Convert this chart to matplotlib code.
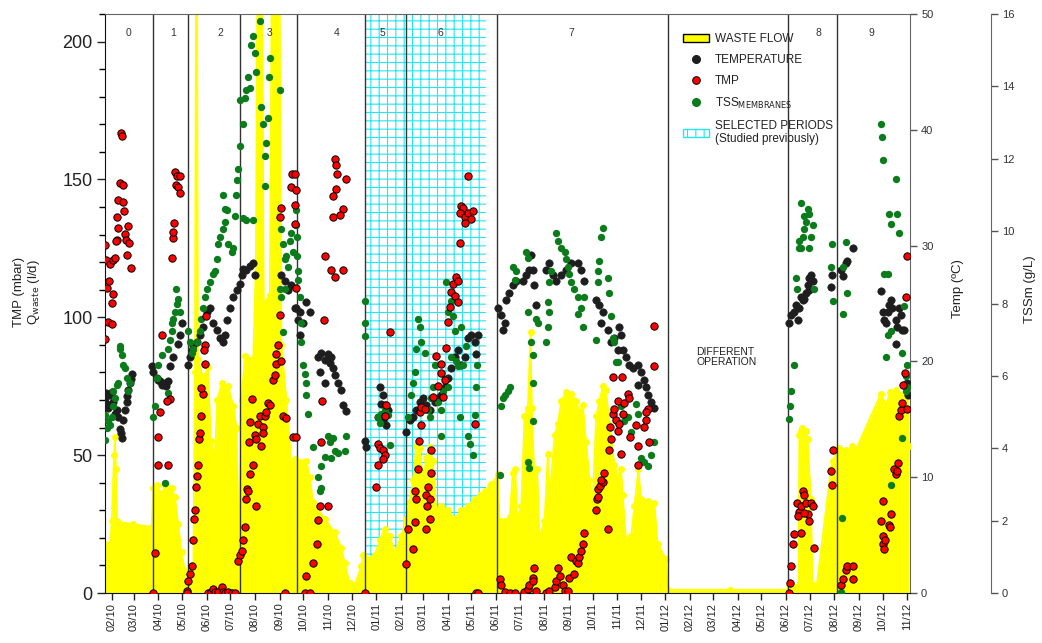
import numpy as np
import matplotlib
matplotlib.use('Agg')
import matplotlib.pyplot as plt
import matplotlib.dates as mdates
from matplotlib.ticker import MultipleLocator
from matplotlib.patches import Patch
from matplotlib.lines import Line2D

plt.rcParams['font.family'] = ['Liberation Sans', 'DejaVu Sans']
plt.rcParams['hatch.linewidth'] = 0.8

# ---------------- data (days since 2010-02-01) ----------------
DATE0 = '2010-02-01'

temp_day = [-8.4, -7, -6.3, -5, -2.1, 0.5, 2.1, 4, 6.3, 8.4, 10.5, 12, 12.6, 14.7, 16.8, 18.9, 20, 21, 23.1, 24, 25.2,
            50.4, 52.5, 56.7, 58.8, 60.9, 63, 67.2, 69, 71.4, 73.5, 77.7, 84, 86.1, 88.2,
            96.6, 98.7, 100.8, 102.9, 107.1, 111.3, 115.5, 119.8, 124, 128.2, 132.4, 136.6, 140.8, 142.9, 145,
            149.2, 153.4, 157.6, 161.8, 163.9, 166, 170.2, 174.4, 178.6, 180.7,
            214.3, 218.5, 222.7, 226.9, 231.1, 235.3, 233.2, 237.4, 241.6, 245.8, 250, 237.4,
            260.5, 264.7, 268.9, 273.1, 277.3, 262.6, 268.9, 281.5, 285.7, 289.9, 292, 296.2, 279.4, 275.2,
            319.4, 321.5, 338.3, 342.5, 340.4, 344.6, 348.8, 336.2, 342.5, 346.7,
            371.9, 376.1, 380.3, 384.5, 388.7, 392.9, 397.1, 401.3, 407.6, 411.8, 416, 420.2, 424.4, 428.6, 432.8,
            437, 441.3, 445.5, 449.7, 453.9, 458.1, 462.3, 460.2,
            487.5, 491.7, 495.9, 493.8, 498, 502, 506.4, 510.6, 519, 523, 527.4, 531.6, 529.5, 533.7, 535.8,
            548.4, 552.6, 556.9, 561, 567.4, 573.7, 580, 588.4, 592.6, 596.8, 611.5, 615.7, 619.9, 617.8, 626.2,
            630.4, 634.6, 638.8, 643, 640.9, 645.1, 649.3, 653.5, 657.7, 664, 668.2, 672.4, 674.5, 676.6, 680.8,
            684.2, 664,
            855.3, 857.4, 861.6, 863.7, 865.8, 867.9, 870, 872.1, 876.3, 878.4, 880.5, 882.6, 884.7, 880.5, 874.2,
            907.8, 909, 920.4, 922.5, 926.7, 928.8, 936,
            970.9, 973, 975.1, 977.2, 979.3, 981.4, 983.5, 985.6, 989.8, 991.9, 994, 996.1, 998.2, 1000.3, 989.8,
            1004.5, 1005.5]
temp_c = [16.8, 17.3, 16.3, 16.0, 17.1, 17.4, 16.5, 15.5, 15.8, 15.2, 14.2, 13.8, 13.4, 14.9, 15.8, 16.5, 17.0, 17.5,
          18.1, 18.5, 18.9,
          19.6, 19.1, 18.6, 18.4, 18.3, 18.0, 18.1, 17.9, 18.3, 19.6, 20.4, 21.5, 22.3, 23.3,
          19.7, 20.4, 21.0, 21.4, 21.7, 22.3, 23.0, 24.3, 24.6, 23.3, 22.7, 22.0, 21.7, 22.3, 23.6,
          24.6, 25.6, 26.2, 26.7, 27.5, 28.0, 27.9, 28.2, 28.5, 27.5,
          27.5, 26.9, 26.2, 26.6, 24.6, 23.6, 24.6, 24.3, 23.3, 25.1, 24.3, 22.3,
          20.4, 20.7, 20.1, 20.6, 20.4, 19.1, 18.1, 18.8, 18.1, 17.5, 16.2, 15.7, 19.4, 19.9,
          13.1, 12.6, 17.8, 17.1, 16.3, 16.2, 15.8, 15.2, 14.9, 14.5,
          13.9, 14.9, 15.2, 15.8, 16.5, 16.8, 16.2, 15.8, 16.5, 16.8, 17.1, 17.8, 18.6, 19.4, 20.4,
          21.0, 19.7, 20.4, 22.0, 22.3, 21.7, 22.3, 20.6,
          24.6, 24.0, 23.3, 22.7, 25.3, 25.9, 26.6, 26.9, 26.9, 27.5, 27.9, 27.9, 29.2, 26.6, 24.9,
          27.9, 28.5, 27.5, 26.9, 27.5, 27.9, 28.5, 28.5, 27.9, 26.9, 25.3, 24.9, 24.3, 23.3, 22.7,
          21.7, 22.0, 21.0, 22.3, 23.0, 21.0, 20.4, 19.7, 19.4, 19.7, 19.1, 18.4, 17.8, 17.1, 16.5,
          16.0, 18.0,
          23.3, 24.0, 24.3, 24.9, 23.6, 24.6, 25.6, 25.3, 25.9, 26.6, 27.2, 27.5, 26.9, 26.2, 25.4,
          26.4, 27.5, 27.9, 27.4, 28.5, 28.7, 29.8,
          26.1, 24.3, 23.6, 23.3, 24.3, 24.9, 25.3, 24.6, 23.6, 23.0, 24.6, 24.0, 22.7, 22.7, 21.5,
          18.1, 17.1]

tmp_day = [-8.4, -7.2, -2.1, 2.1, 4.2, -6.3, -3, 0, 2.1, -4.2, 0, -8.4, 6.3, 8.4, 10.5, 13.8, 8.4, 14.7, 15.5, 6.3,
           16.8, 18, 21, 22.2, 18.9, 23.9, 11.3, 12.6, 5.4,
           52.5, 54.6, 58.8, 58.8, 71.4, 60.9, 63, 73.5, 69.3, 75.6, 76.9, 77.7, 78.6, 79.8, 81.9, 86.1, 81.1, 84, 86.1,
           94.5, 96.6, 98.7, 100.8, 94.5, 102.9, 104.2, 105, 105.9, 107.1, 109.2, 110.1, 111.3, 113.4, 115.5, 113.4,
           117.6, 117.6, 118.9, 116.4, 121.8, 126, 128.2, 130.3, 134.5, 138.7, 140.8, 142.9, 147.1, 151.3, 155.5,
           159.7, 161.8, 163.9, 166, 168.1, 170.2, 171, 172.3, 174.4, 178.6, 173.5, 175.2, 177.7, 180.7, 182.8,
           184.9, 187, 189.1, 191.2, 193.3, 195.4, 197.5, 182.8, 191.2, 199.6, 203.8, 205.9, 208, 207.2, 210.1,
           212.2, 214.3, 216.4, 220.6, 212.2, 214.3, 226.9, 228.2, 229, 233.2, 218.5,
           231.1, 233.2, 231.1, 231.1, 233.2,
           281.5, 283.6, 284.9, 296.2, 283.6, 279.4, 292, 287.8, 279.4, 268.9, 277.3, 281.5, 292, 268, 265.6, 264.7,
           262.6, 273.1, 260.5, 259.7, 254.2, 245.8, 243.7, 250,
           319.4, 350.9, 336.2, 338.3, 342.5, 344.6, 342.5, 336.2, 334.1, 346.7, 344.6,
           371.9, 380.3, 374, 382.4, 384.5, 382.4, 386.6, 387.4, 390.8, 388.7, 390.8, 395, 397.1, 398.4, 399.2,
           401.3, 402.6, 403.4, 401.3, 397.1, 405.5, 411.8, 415.2, 409.7, 416, 418.1, 420.2, 422.3, 424.4, 426.5,
           430.7, 435, 437, 428.6, 432.8, 437, 439.1, 441.3, 443.4, 439.1, 445.5, 449.7, 456, 453.9, 446.3, 449.7,
           458.1, 460.2, 462.3,
           489.6, 491.7, 495.9, 502.2, 508.5, 521.1, 525.3, 527.4, 531.6, 533.7, 531.6, 535.8, 548.4, 552.6, 559,
           561, 563.2, 565.3, 569.5, 571.6, 575.8, 577.9, 580, 584.2, 586.3, 588.4, 590.5, 592.6, 594.7, 595.9,
           611.5, 612.8, 626.2, 613.6, 614.4, 617, 619.9, 622, 617.8, 628.3, 630.4, 629.6, 632.5, 634.6, 638.8,
           636.7, 638.8, 640.9, 643, 645.1, 647.2, 651.4, 653.5, 654.8, 661.9, 664, 664.9, 671.6, 674.5, 676.6,
           678.7, 674.5, 684.2, 685, 632.5, 644.3,
           854.4, 856.1, 857.4, 860.3, 861.6, 864.5, 867.9, 870, 872.1, 874.2, 876.3, 878.4, 880.5, 882.6, 884.7,
           865.8, 870, 886.8, 874.2,
           907.8, 909.1, 909.9, 920.4, 922.5, 926.7, 928.8, 936, 936,
           970.9, 973, 974.2, 975.1, 976.3, 973, 981.4, 983.5, 982.2, 987.7, 989.8, 991.9, 993.1, 994, 996.1,
           998.2, 999, 1001.5, 1004.5, 1002.4, 1004.5]
tmp_mbar = [126.2, 120.7, 119.3, 120.7, 121.4, 110.5, 113.2, 105, 108.4, 98.2, 97.5, 92.1, 136.4, 132.3, 148.6,
            147.9, 142.5, 141.8, 138.4, 128.2, 130.2, 128.2, 133, 126.8, 122.7, 118, 167, 165.7, 127.5,
            0, 14.4, 56.7, 46.5, 46.5, 65.5, 93.5, 70.3, 69.6, 121.4, 128.9, 130.9, 134.3, 152.7, 151.4, 151.4,
            147.9, 147.2, 145.2,
            0.8, 4.2, 6.9, 9.7, 0, 19.2, 26.7, 30.1, 38.3, 42.4, 46.5, 56, 58, 64.2, 72.3, 74.4,
            83.2, 90, 100.3, 88, 0, 0.5, 1.5, 0.5, 0.2, 2.2, 0.5, 0, 0.2, 0, 0,
            11.7, 13.8, 15.1, 19.2, 24, 34.2, 37.6, 36.9, 43, 46.5, 54.6, 62.1, 70.3, 57.4, 56,
            61.4, 64.2, 53.3, 60.1, 64.2, 65.5, 68.9, 31.5, 58, 68.3, 77.1, 79.2, 83.2, 86.6, 90,
            101, 84.3, 64.2, 63.5, 136.4, 139.8, 147.3, 152, 56.7, 56.7, 0,
            152, 146, 140.6, 133.7, 110.5,
            157.5, 155.4, 152, 150, 146.6, 143.9, 139.1, 137, 136.4, 122.1, 117.3, 114.6, 117.3, 98.9, 69.6, 54.6,
            31.5, 31.5, 26.4, 17.8, 11, 6.3, 0.1, 0,
            0, 94.8, 54, 52.6, 51.9, 49.9, 48.5, 46.5, 38.3, 68.3, 64.2,
            10.4, 15.8, 23.3, 25.9, 34.2, 36.9, 45.1, 55.3, 60.8, 65.5, 67.6, 66.9, 35.6, 31.5, 38.3,
            34.2, 43.7, 51.9, 26.7, 23.3, 71, 75.1, 79.8, 86, 83.2, 71, 77.1, 88.7, 98.2, 103.7,
            111.9, 114.6, 113.2, 109.1, 107.8, 105.7, 126.8, 140.5, 139.8, 137.7, 136.4, 137.7, 138.4, 135.7, 134.3, 151.4,
            61.4, 0, 0,
            4.9, 2.9, 0.4, 0, 0, 0.4, 1.5, 2.9, 5.6, 9, 4.2, 0.8, 0, 0.8, 2.2,
            4.2, 9, 6.3, 2.9, 0.8, 0.8, 5.6, 13.1, 6.9, 11.7, 11, 13.1, 15.1, 17.8, 21.9,
            30.1, 34.2, 23.3, 34.9, 37.6, 38.9, 40.3, 43.7, 41, 51.9, 56, 60.1, 64.9, 66.9, 69.6,
            62.8, 58.7, 61.4, 50.5, 64.9, 68.9, 72.3, 70.6, 56.7, 60.8, 53.3, 46.5, 60.1, 62.8, 66.9,
            54.6, 65.5, 82.5, 96.9, 78.5, 78.5,
            0, 3.5, 9.7, 17.8, 21.3, 32.7, 29.4, 31.5, 36.9, 35.6, 32.7, 28.7, 26, 32.7, 31.5,
            28.1, 21.9, 16.5, 29,
            44.4, 39, 51.9, 2.9, 4.9, 8.3, 9.7, 9.7, 4.9,
            26, 20.6, 17.8, 15.8, 19.2, 33.5, 24.7, 28.7, 24, 45.1, 43, 44.4, 47.1, 64.2, 66.2,
            68.9, 75.3, 79.8, 66.9, 107.5, 122.1]

tss_day = [-8.4, -8.4, -6.3, -4.2, -2.1, 0, 2.1, 4.2, 6.3, 8.4, 10.5, 12.6, 14.7, 16.8, 18.9, 21, 23.1, 2.1, 10.5,
           51.7, 54.6, 56.7, 58.8, 63, 67.2, 71.4, 71.4, 73.5, 75.6, 77.7, 79.8, 81.1, 81.9, 84, 86.1, 75.6,
           96.6, 98.7, 100.8, 102.9, 107.1, 111.3, 113.4, 115.5, 117.6, 119.8, 124, 128.2, 130.3, 132.4, 134.5,
           136.6, 140.8, 142.9, 145, 147.1, 151.3, 153.4, 155.5, 140.8, 142.9, 156.7, 157.6, 159.7, 161.8, 161.8,
           166, 168.1, 170.2, 172.3, 174.4, 176.5, 178.6, 180.7, 182.8, 187, 189.1, 191.2, 193.3, 193.3, 195.4,
           197.5, 199.6, 198.8, 212.2, 166, 170.2, 178.6, 214.3, 216.4, 218.5, 220.6, 222.7, 224.8, 226.9, 229,
           218.5, 214.3, 212.2, 216.4,
           233.2, 233.2, 234.5, 234.5, 235.3, 235.3, 237.4, 239.5, 239.5,
           241.6, 243.7, 245.8, 245.8, 247.9, 254.2, 260.5, 262.6, 264.7, 268.9, 273.1, 277.3, 281.5, 285.7, 294.1,
           296.2, 275.2, 279.4, 264.7,
           319.4, 319.4, 320.2, 336.2, 340.4, 344.6, 348.8, 338.3, 350.9,
           374, 378.2, 380.3, 382.4, 384.5, 386.6, 388.7, 390.8, 395, 399.2, 401.3, 403.4, 405.5, 407.6, 411.8,
           416, 418.1, 420.2, 422.3, 424.4, 428.6, 430.7, 432.8, 435, 437, 439.1, 441.3, 443.4, 447.6, 449.7,
           451.8, 456, 458.1, 460.2, 461.4, 416, 424.4, 428.6,
           489.6, 491.7, 493.8, 495.9, 500.1, 502.2, 506.4, 508.5, 510.6, 523.2, 525.3, 525.3, 529.5, 531.6, 531.6,
           531.6, 525.3, 527.4, 535.8, 537.9, 548.4, 550.6, 552.6, 550.6, 552.6, 554.8, 561, 563.2, 567.4, 571.6,
           573.7, 575.8, 577.9, 580, 584.2, 588.4, 592.6, 594.7, 588.4, 596.8, 611.5, 613.6, 614.4, 615.7, 617.8,
           619.9, 626.2, 628.3, 630.4, 632.5, 634.6, 636.7, 638.8, 643, 647.2, 651.4, 655.6, 661.9, 664, 668.2,
           672.4, 676.6, 680.8, 684.2,
           854.4, 856.1, 857.4, 860.7, 863.7, 864.5, 867.9, 870, 872.1, 874.2, 876.3, 878.4, 880.5, 882.6, 884.7,
           870, 874.2, 886.8, 880.5, 867,
           909.1, 907.8, 909.9, 926.7, 923.4, 928.8, 922.5, 921.7, 920.4,
           970.9, 972.1, 973, 989.8, 981.4, 983.5, 991.9, 994, 975.1, 979.3, 1000.3, 983.5, 979.3, 977.2, 997.3,
           1004.5, 1002.4, 1002.4, 1004.5, 998.2, 983.5]
tss_gl = [4.91, 4.24, 4.55, 4.76, 4.65, 4.86, 5.17, 5.38, 5.74, 5.79, 6.73, 6.57, 6.31, 6.21, 5.95, 5.59, 5.79,
          5.59, 6.83,
          4.86, 5.17, 5.95, 6.31, 6.57, 3.04, 5.53, 6.73, 6.99, 7.25, 7.56, 7.77, 8.39, 7.98, 8.13, 7.77, 7.46,
          7.25, 6.94, 6.63, 6.73, 6.94, 7.25, 7.56, 7.87, 8.18, 8.39, 8.6, 8.81, 8.91, 9.22, 9.64,
          9.84, 10.05, 10.26, 10.57, 9.64, 9.43, 9.53, 10.42, 10.99, 10.62, 10.99, 11.4, 11.71, 12.34, 13.63,
          12.96, 13.69, 13.89, 14.26, 13.95, 15.14, 15.4, 14.93, 14.41, 15.81, 13.43, 12.96, 12.08, 11.25, 12.44,
          13.12, 14.78, 14.26, 13.89, 10.36, 10.31, 10.31, 10.05, 9.64, 9.22, 9.32, 9.01, 9.74, 9.95, 9.43,
          8.39, 8.18, 8.39, 7.2,
          10.57, 10.16, 9.84, 9.32, 8.91, 8.65, 8.18, 7.46, 6.94,
          6.31, 6.05, 5.79, 5.48, 4.96, 4.03, 3.2, 2.83, 3.51, 3.77, 4.34, 3.72, 3.93, 3.87, 3.93,
          4.34, 4.18, 4.29, 2.89,
          8.08, 7.46, 7.09, 4.86, 4.96, 5.07, 4.91, 4.7, 4.08,
          4.86, 5.48, 5.79, 6.11, 6.73, 7.56, 7.35, 6.94, 6.63, 5.07, 4.86, 5.38, 5.69, 6.31, 5.28,
          5.07, 5.59, 5.9, 8.6, 7.77, 8.08, 7.66, 7.25, 6.42, 6.26, 4.86, 7.35, 6.31, 6.83, 4.34,
          4.13, 3.82, 4.91, 5.69, 6.31, 4.34, 5.69, 6.52,
          3.25, 5.17, 5.38, 5.48, 5.59, 5.69, 9.01, 8.65, 8.91, 9.43, 9.27, 7.77, 6.94, 6.57, 5.79,
          4.76, 3.61, 3.46, 7.56, 7.46, 6.94, 7.35, 7.77, 8.03, 8.6, 8.91, 9.95, 9.74, 9.53, 9.43,
          9.22, 9.01, 8.81, 8.6, 8.39, 8.18, 7.87, 7.35, 7.72, 8.18, 6.99, 8.6, 8.91, 9.17, 9.84,
          10.1, 8.7, 8.29, 7.66, 7.04, 6.94, 6.37, 6.37, 5.17, 4.76, 4.86, 4.44, 5.22, 4.96, 3.72,
          3.61, 3.51, 3.82, 4.18,
          4.81, 5.17, 5.59, 6.31, 8.7, 8.39, 9.74, 9.53, 9.84, 10.05, 10.26, 10.62, 10.47, 9.84, 10.16,
          10.78, 10.42, 8.39, 9.53, 9.53,
          9.64, 9.01, 8.08, 9.69, 9.01, 8.29, 7.72, 2.06, 0.03,
          12.96, 12.6, 11.97, 11.45, 10.47, 10.21, 10.47, 9.95, 8.81, 8.81, 7.92, 7.25, 7.14, 6.52, 6.63,
          6.31, 6.0, 5.59, 5.69, 4.29, 2.99]

flow_day = [-9, -2.1, 0, 2.9, 4.2, 5.4, 7.1, 27.3, 50.4, 52.5, 56.7, 63, 67.2, 71.4, 75.6, 79.8, 84, 88.2, 92.4,
            95.4, 102.9, 105, 106.3, 108, 108.8, 115.5, 121.8, 125.2, 130.3, 133.2, 138.7, 147.1, 153.4, 157.6,
            161, 163.9, 168.1, 178.6, 182, 183.6, 190.3, 192, 199.6, 201.7, 212.2, 214.3, 220.6, 226.9, 231.1,
            245.8, 250, 254.2, 268.9, 281.5, 289.9, 294.1, 300.4, 306.8, 315.2, 317.3, 321.5, 327.8, 332, 338.3,
            344.6, 350.9, 357.2, 365.6, 371.9, 376.1, 380.3, 384.5, 388.7, 392.9, 397.1, 401.3, 405.5, 409.7,
            416, 424.4, 432.8, 441.3, 449.7, 458.1, 464.4, 470.7, 479.1, 487.5, 489.6, 495.9, 502.2, 506.4,
            509.4, 511.9, 516.9, 521.1, 525.3, 528.7, 530.4, 533.7, 537.1, 540, 546.3, 550.5, 552.6, 559, 563.2,
            567.4, 573.7, 580, 586.3, 590.5, 594.7, 598.9, 603.1, 607.3, 611.5, 615.7, 619.9, 624.1, 628.3,
            634.6, 638.8, 643, 645.1, 649.3, 655.6, 659.8, 664.9, 668.2, 676.6, 685, 689.2, 699.7, 702,
            780, 854.4, 855.3, 867, 867.9, 870, 872, 876.3, 878.4, 882.6, 884.7, 888.9, 907.8, 909.9, 918.3,
            926.7, 930.9, 935.1, 939.3, 970.9, 977.2, 983, 989.8, 1000, 1004.5, 1006.6]
flow_lpd = [17.8, 17.8, 26, 50, 56.7, 45, 26, 25, 24, 38, 39, 36, 39, 38, 38, 35, 25, 15, 8,
            2, 3, 80, 212, 212, 85, 78, 82, 55, 50, 70, 76, 75, 68, 60,
            15, 70, 86, 85, 120, 212, 212, 105, 108, 212, 212, 90, 70, 47, 48.5,
            48, 42, 33, 27, 22, 16.5, 11, 3.5, 3, 9.7, 13.8, 12.4, 12.4, 13.8, 19.2,
            23.3, 20.6, 15, 20.6, 27, 33, 41, 53.3, 52.6, 41, 49, 53, 47.8, 30,
            31.5, 30, 27, 30, 31.5, 34, 35.6, 37, 39.6, 43, 26, 26, 27.4, 43.7,
            45, 27, 31.5, 64.2, 67, 94.8, 67, 41, 45, 20.6, 26, 50.5, 34, 57.4, 61.4,
            69.6, 73, 72.3, 69.6, 65.5, 68.3, 54.6, 41, 34, 64.2, 69.6, 75, 73.6, 61.4,
            46.5, 42.4, 45, 35.6, 19.2, 20.6, 31.5, 45, 34, 33.4, 32.8, 17.8, 12.4, 1.2,
            1.2, 1.2, 2.9, 2.9, 57.4, 58.7, 60, 58.7, 56, 34, 2.9, 0.5, 45, 47.8, 52.6,
            51.9, 50, 53.3, 52, 72.3, 68.3, 73, 73.6, 72, 72.3, 53.3]

period_bounds = [52.5, 95.8, 161.8, 234.5, 319.4, 371.1, 485.9, 702.7, 854.0, 915.5]
period_names = ['0', '1', '2', '3', '4', '5', '6', '7', '8', '9']
period_label_day = [21.8, 77.3, 136.6, 199.7, 284.1, 342.2, 415.3, 580.5, 892.0, 958.8]
selected_span = [319.4, 472.9]

# ---------------- figure ----------------
d0 = mdates.date2num(np.datetime64(DATE0))


def X(days):
    return d0 + np.asarray(days, dtype=float)


fig = plt.figure(figsize=(10.42, 6.43), dpi=100)
ax = fig.add_axes([105 / 1042, 1 - 593 / 643, (910 - 105) / 1042, (593 - 14) / 643])
ax_t = ax.twinx()
ax_s = ax.twinx()
ax.set_zorder(3)
ax.patch.set_visible(False)
ax_t.set_zorder(1)
ax_s.set_zorder(1)

ax.set_xlim(d0 - 8.4, d0 + 1007.7)
ax.set_ylim(0, 210)
ax_t.set_ylim(0, 50)
ax_s.set_ylim(0, 16)

# selected periods hatch
ax.axvspan(X(selected_span[0]), X(selected_span[1]), facecolor='none', edgecolor='#22e6f2',
           hatch='++', linewidth=0, zorder=0.5)

# waste flow
ax.fill_between(X(flow_day), 0, flow_lpd, color='#ffff00', linewidth=0, zorder=1)
ax.plot(X(flow_day), flow_lpd, color='#ffff00', lw=1.2, marker='o', ms=4, zorder=1.1)

# period lines
for b in period_bounds:
    ax.axvline(X(b), color='#333333', lw=1.0, zorder=2)
for d, n in zip(period_label_day, period_names):
    ax.text(X(d), 0.968, n, transform=ax.get_xaxis_transform(), ha='center', va='center',
            fontsize=7.5, color='#333333', zorder=6)

ax.text(X(737.9), 85.5, 'DIFFERENT\nOPERATION', ha='left', va='center', fontsize=7.5,
        color='#222222', linespacing=1.05, zorder=6)

# scatters
ax.scatter(X(temp_day), temp_c, transform=ax_t.transData, s=28, c='#1e1e1e',
           edgecolors='#1e1e1e', linewidths=0.5, zorder=4)
ax.scatter(X(tss_day), tss_gl, transform=ax_s.transData, s=28, c='#0b7b1b',
           linewidths=0, zorder=4.5)
ax.scatter(X(tmp_day), tmp_mbar, s=28, c='#ff0000', edgecolors='black', linewidths=0.7, zorder=5)

# axes styling
ax.xaxis.set_major_locator(mdates.MonthLocator())
ax.xaxis.set_major_formatter(mdates.DateFormatter('%m/%y'))
ax.tick_params(axis='x', direction='out', length=5, width=1, pad=2, labelsize=8,
               labelrotation=90, colors='#222222')
ax.set_yticks([0, 50, 100, 150, 200])
ax.yaxis.set_minor_locator(MultipleLocator(10))
ax.tick_params(axis='y', which='major', direction='out', length=6, width=1, pad=3, labelsize=13,
               colors='#222222')
ax.tick_params(axis='y', which='minor', direction='out', length=4, width=1)
ax.spines['right'].set_visible(False)
ax.spines['top'].set_color('#666666')
ax.spines['left'].set_color('#111111')
ax.spines['bottom'].set_color('#111111')

ax.set_ylabel('TMP (mbar)\nQ$_{\\mathrm{waste}}$ (l/d)', fontsize=9.5, color='#222222', linespacing=1.1)
ax.yaxis.set_label_coords(-0.078, 0.52)

for a in (ax_t, ax_s):
    for s in ('left', 'top', 'bottom'):
        a.spines[s].set_visible(False)
    a.spines['right'].set_color('#666666')
    a.tick_params(axis='y', direction='out', length=5, width=1, pad=3, labelsize=8,
                  colors='#555555', labelcolor='#333333')
    a.tick_params(axis='x', bottom=False, labelbottom=False)

ax_s.spines['right'].set_position(('axes', 1.10))
ax_t.set_yticks([0, 10, 20, 30, 40, 50])
ax_s.set_yticks([0, 2, 4, 6, 8, 10, 12, 14, 16])
ax_t.set_ylabel('Temp (ºC)', fontsize=9.5, color='#222222', rotation=90)
ax_t.yaxis.set_label_coords(1.052, 0.525)
ax_s.set_ylabel('TSSm (g/L)', fontsize=9.5, color='#222222', rotation=90)
ax_s.yaxis.set_label_coords(1.142, 0.525)

# legend
handles = [
    Patch(facecolor='#ffff00', edgecolor='black', linewidth=1.0),
    Line2D([], [], ls='', marker='o', ms=5.5, color='#1e1e1e'),
    Line2D([], [], ls='', marker='o', ms=5.5, markerfacecolor='#ff0000', markeredgecolor='black',
           markeredgewidth=0.7),
    Line2D([], [], ls='', marker='o', ms=5.5, color='#0b7b1b'),
    Patch(facecolor='white', edgecolor='#22e6f2', hatch='++', linewidth=1.0),
]
labels = ['WASTE FLOW', 'TEMPERATURE', 'TMP', 'TSS$_{\\mathrm{MEMBRANES}}$',
          'SELECTED PERIODS\n(Studied previously)']
leg = fig.legend(handles, labels, loc='upper left', bbox_to_anchor=(683 / 1042, 1 - 33 / 643),
                 frameon=False, fontsize=8.5, handlelength=2.2, handleheight=0.7, handletextpad=0.5,
                 labelspacing=0.75, borderpad=0, borderaxespad=0)
for t in leg.get_texts():
    t.set_color('#222222')

fig.savefig('out.png', dpi=100)
